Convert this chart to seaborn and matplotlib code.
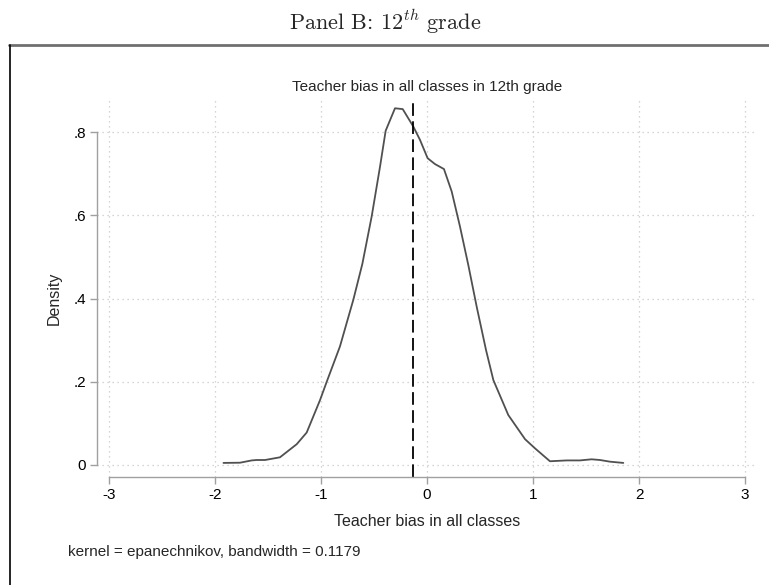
import matplotlib
matplotlib.use("Agg")
import matplotlib.pyplot as plt
from matplotlib.lines import Line2D
import seaborn as sns
import pandas as pd

# Kernel density estimate of teacher bias (12th grade)
bias = [-1.92, -1.764, -1.654, -1.607, -1.528, -1.387, -1.229, -1.135, -1.009, -0.946,
        -0.821, -0.695, -0.610, -0.522, -0.443, -0.390, -0.302, -0.229, -0.129, -0.066,
        0.006, 0.075, 0.160, 0.233, 0.311, 0.390, 0.469, 0.557, 0.626, 0.767,
        0.925, 1.019, 1.160, 1.318, 1.443, 1.553, 1.632, 1.726, 1.852]
density = [0.005, 0.0055, 0.011, 0.012, 0.012, 0.0185, 0.050, 0.078, 0.156, 0.200,
           0.285, 0.397, 0.483, 0.597, 0.717, 0.803, 0.857, 0.855, 0.813, 0.781,
           0.737, 0.723, 0.711, 0.657, 0.573, 0.480, 0.380, 0.276, 0.204, 0.120,
           0.062, 0.040, 0.009, 0.011, 0.011, 0.0137, 0.012, 0.008, 0.005]
mean_bias = -0.135

x_ticks = [-3, -2, -1, 0, 1, 2, 3]
x_ticklabels = ["-3", "-2", "-1", "0", "1", "2", "3"]
y_ticks = [0, 0.2, 0.4, 0.6, 0.8]
y_ticklabels = ["0", ".2", ".4", ".6", ".8"]

sns.set_style("white")
plt.rcParams["font.family"] = ["Liberation Sans", "DejaVu Sans"]
plt.rcParams["mathtext.fontset"] = "cm"

W, H = 769, 585
fig = plt.figure(figsize=(W / 100, H / 100), dpi=100)

def fx(px):
    return px / W

def fy(py):
    return 1 - py / H

ax = fig.add_axes([fx(97), fy(477), fx(757) - fx(97), fy(98) - fy(477)])

df = pd.DataFrame({"bias": bias, "density": density})
sns.lineplot(data=df, x="bias", y="density", ax=ax, color="#505050",
             linewidth=1.3, sort=False)
ax.axvline(mean_bias, color="black", linestyle=(0, (7, 3)), linewidth=1.3)

ax.set_xlim(-3 - 12 / 106, 3 + 12 / 106)
ax.set_ylim(-12 / 416.25, 367 / 416.25)
ax.set_xticks(x_ticks)
ax.set_xticklabels(x_ticklabels)
ax.set_yticks(y_ticks)
ax.set_yticklabels(y_ticklabels)
ax.set_xlabel("")
ax.set_ylabel("")

ax.grid(True, color="#c8c8c8", linestyle=(0, (1, 3)), linewidth=0.9)
for side in ("top", "right"):
    ax.spines[side].set_visible(False)
for side in ("left", "bottom"):
    ax.spines[side].set_color("#a0a0a0")
    ax.spines[side].set_linewidth(1.0)
ax.spines["left"].set_bounds(0, 0.8)
ax.spines["bottom"].set_bounds(-3, 3)
ax.tick_params(axis="both", direction="out", length=5, width=1.0,
               color="#a0a0a0", labelsize=11, labelcolor="black", pad=3,
               left=True, bottom=True)

# Text around the plot region
fig.text(fx(427), fy(87), "Teacher bias in all classes in 12th grade",
         ha="center", va="center", fontsize=11)
fig.text(fx(427), fy(521), "Teacher bias in all classes",
         ha="center", va="center", fontsize=11.5)
fig.text(fx(54), fy(298), "Density", rotation=90,
         ha="center", va="center", fontsize=11.5)
fig.text(fx(68), fy(552), "kernel = epanechnikov, bandwidth = 0.1179",
         ha="left", va="center", fontsize=11)
fig.text(fx(385), fy(22), r"Panel B: 12$^{th}$ grade",
         ha="center", va="center", fontsize=16, family="cmr10")

# Outer frame of the graph
fig.add_artist(Line2D([fx(9), fx(769)], [fy(45), fy(45)], color="#707070",
                      linewidth=2.0, transform=fig.transFigure))
fig.add_artist(Line2D([fx(9.5), fx(9.5)], [fy(45), fy(585)], color="black",
                      linewidth=1.2, transform=fig.transFigure))

fig.savefig("out.png", dpi=100, facecolor="white")
